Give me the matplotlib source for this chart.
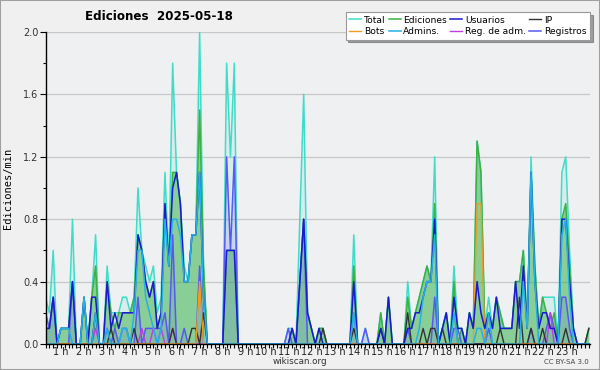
import numpy as np
import matplotlib
matplotlib.use("Agg")
import matplotlib.pyplot as plt
from matplotlib.patches import Rectangle
from matplotlib.ticker import MultipleLocator

# edits per minute, 10-minute bins from 0:00 (one row per hour)
total = [
    0.3, 0.2, 0.6, 0.0, 0.1, 0.1,
    0.1, 0.8, 0.0, 0.0, 0.3, 0.0,
    0.3, 0.7, 0.0, 0.0, 0.5, 0.2,
    0.2, 0.2, 0.3, 0.3, 0.2, 0.3,
    1.0, 0.6, 0.5, 0.4, 0.5, 0.2,
    0.3, 1.1, 0.5, 1.8, 1.1, 0.9,
    0.5, 0.4, 0.7, 0.7, 2.0, 0.5,
    0.0, 0.0, 0.0, 0.0, 0.0, 1.8,
    1.2, 1.8, 0.0, 0.0, 0.0, 0.0,
    0.0, 0.0, 0.0, 0.0, 0.0, 0.0,
    0.0, 0.0, 0.0, 0.1, 0.1, 0.0,
    0.8, 1.6, 0.2, 0.1, 0.0, 0.1,
    0.1, 0.0, 0.0, 0.0, 0.0, 0.0,
    0.0, 0.0, 0.7, 0.0, 0.0, 0.1,
    0.0, 0.0, 0.0, 0.2, 0.0, 0.3,
    0.0, 0.0, 0.0, 0.0, 0.4, 0.1,
    0.2, 0.3, 0.4, 0.5, 0.4, 1.2,
    0.0, 0.1, 0.2, 0.0, 0.5, 0.1,
    0.1, 0.0, 0.2, 0.1, 1.3, 1.1,
    0.1, 0.3, 0.1, 0.3, 0.2, 0.1,
    0.1, 0.1, 0.4, 0.4, 0.6, 0.1,
    1.2, 0.5, 0.1, 0.3, 0.3, 0.3,
    0.3, 0.0, 1.1, 1.2, 0.6, 0.1,
    0.0, 0.0, 0.0, 0.1]

ediciones = [
    0.1, 0.1, 0.3, 0.0, 0.1, 0.1,
    0.1, 0.4, 0.0, 0.0, 0.3, 0.0,
    0.3, 0.5, 0.0, 0.0, 0.4, 0.2,
    0.1, 0.2, 0.2, 0.2, 0.2, 0.3,
    0.7, 0.6, 0.4, 0.3, 0.4, 0.1,
    0.2, 0.9, 0.5, 1.1, 1.1, 0.9,
    0.4, 0.4, 0.7, 0.7, 1.5, 0.5,
    0.0, 0.0, 0.0, 0.0, 0.0, 0.6,
    0.6, 0.6, 0.0, 0.0, 0.0, 0.0,
    0.0, 0.0, 0.0, 0.0, 0.0, 0.0,
    0.0, 0.0, 0.0, 0.0, 0.1, 0.0,
    0.4, 0.8, 0.2, 0.1, 0.0, 0.1,
    0.1, 0.0, 0.0, 0.0, 0.0, 0.0,
    0.0, 0.0, 0.5, 0.0, 0.0, 0.0,
    0.0, 0.0, 0.0, 0.2, 0.0, 0.3,
    0.0, 0.0, 0.0, 0.0, 0.3, 0.1,
    0.2, 0.3, 0.4, 0.5, 0.4, 0.9,
    0.0, 0.1, 0.2, 0.0, 0.4, 0.0,
    0.1, 0.0, 0.2, 0.1, 1.3, 1.1,
    0.1, 0.2, 0.1, 0.3, 0.2, 0.1,
    0.1, 0.1, 0.4, 0.4, 0.6, 0.1,
    1.1, 0.5, 0.1, 0.3, 0.2, 0.1,
    0.2, 0.0, 0.8, 0.9, 0.5, 0.1,
    0.0, 0.0, 0.0, 0.1]

usuarios = [
    0.1, 0.1, 0.3, 0.0, 0.1, 0.1,
    0.1, 0.4, 0.0, 0.0, 0.3, 0.0,
    0.3, 0.3, 0.0, 0.0, 0.4, 0.1,
    0.2, 0.1, 0.2, 0.2, 0.2, 0.2,
    0.7, 0.6, 0.4, 0.3, 0.4, 0.1,
    0.2, 0.9, 0.5, 1.0, 1.1, 0.9,
    0.4, 0.4, 0.7, 0.7, 1.1, 0.3,
    0.0, 0.0, 0.0, 0.0, 0.0, 0.6,
    0.6, 0.6, 0.0, 0.0, 0.0, 0.0,
    0.0, 0.0, 0.0, 0.0, 0.0, 0.0,
    0.0, 0.0, 0.0, 0.0, 0.1, 0.0,
    0.4, 0.8, 0.2, 0.1, 0.0, 0.1,
    0.0, 0.0, 0.0, 0.0, 0.0, 0.0,
    0.0, 0.0, 0.4, 0.0, 0.0, 0.0,
    0.0, 0.0, 0.0, 0.1, 0.0, 0.3,
    0.0, 0.0, 0.0, 0.0, 0.1, 0.1,
    0.2, 0.2, 0.3, 0.4, 0.4, 0.8,
    0.0, 0.1, 0.2, 0.0, 0.3, 0.1,
    0.1, 0.0, 0.2, 0.1, 0.4, 0.2,
    0.1, 0.2, 0.1, 0.3, 0.1, 0.1,
    0.1, 0.1, 0.4, 0.1, 0.5, 0.1,
    1.1, 0.4, 0.1, 0.2, 0.2, 0.1,
    0.1, 0.0, 0.8, 0.8, 0.4, 0.1,
    0.0, 0.0, 0.0, 0.0]

ip = [
    0.0, 0.0, 0.0, 0.0, 0.0, 0.0,
    0.0, 0.0, 0.0, 0.0, 0.0, 0.0,
    0.0, 0.2, 0.0, 0.0, 0.0, 0.1,
    0.0, 0.0, 0.0, 0.0, 0.0, 0.1,
    0.0, 0.0, 0.0, 0.0, 0.0, 0.0,
    0.0, 0.0, 0.0, 0.1, 0.0, 0.0,
    0.0, 0.0, 0.1, 0.1, 0.0, 0.2,
    0.0, 0.0, 0.0, 0.0, 0.0, 0.0,
    0.0, 0.0, 0.0, 0.0, 0.0, 0.0,
    0.0, 0.0, 0.0, 0.0, 0.0, 0.0,
    0.0, 0.0, 0.0, 0.0, 0.0, 0.0,
    0.0, 0.0, 0.0, 0.0, 0.0, 0.0,
    0.1, 0.0, 0.0, 0.0, 0.0, 0.0,
    0.0, 0.0, 0.1, 0.0, 0.0, 0.0,
    0.0, 0.0, 0.0, 0.1, 0.0, 0.0,
    0.0, 0.0, 0.0, 0.0, 0.2, 0.0,
    0.0, 0.0, 0.1, 0.0, 0.1, 0.1,
    0.0, 0.1, 0.0, 0.0, 0.0, 0.0,
    0.0, 0.0, 0.0, 0.0, 0.0, 0.0,
    0.0, 0.0, 0.0, 0.0, 0.1, 0.0,
    0.0, 0.0, 0.0, 0.3, 0.0, 0.0,
    0.1, 0.0, 0.0, 0.1, 0.0, 0.0,
    0.0, 0.0, 0.0, 0.1, 0.0, 0.0,
    0.0, 0.0, 0.0, 0.1]

admins = [
    0.0, 0.0, 0.0, 0.0, 0.1, 0.1,
    0.1, 0.0, 0.0, 0.0, 0.3, 0.0,
    0.0, 0.2, 0.0, 0.0, 0.1, 0.0,
    0.0, 0.0, 0.1, 0.1, 0.0, 0.2,
    0.6, 0.6, 0.3, 0.2, 0.1, 0.0,
    0.1, 0.8, 0.5, 0.8, 0.8, 0.7,
    0.4, 0.4, 0.7, 0.7, 1.1, 0.3,
    0.0, 0.0, 0.0, 0.0, 0.0, 0.0,
    0.0, 0.0, 0.0, 0.0, 0.0, 0.0,
    0.0, 0.0, 0.0, 0.0, 0.0, 0.0,
    0.0, 0.0, 0.0, 0.0, 0.0, 0.0,
    0.0, 0.0, 0.0, 0.0, 0.0, 0.0,
    0.0, 0.0, 0.0, 0.0, 0.0, 0.0,
    0.0, 0.0, 0.2, 0.0, 0.0, 0.0,
    0.0, 0.0, 0.0, 0.0, 0.0, 0.0,
    0.0, 0.0, 0.0, 0.0, 0.0, 0.0,
    0.0, 0.1, 0.3, 0.4, 0.4, 0.7,
    0.0, 0.0, 0.0, 0.0, 0.2, 0.0,
    0.0, 0.0, 0.0, 0.0, 0.1, 0.1,
    0.0, 0.2, 0.0, 0.0, 0.0, 0.0,
    0.0, 0.0, 0.0, 0.0, 0.4, 0.1,
    1.1, 0.4, 0.0, 0.0, 0.0, 0.0,
    0.0, 0.0, 0.7, 0.8, 0.3, 0.0,
    0.0, 0.0, 0.0, 0.0]

registros = [
    0.2, 0.1, 0.3, 0.0, 0.0, 0.0,
    0.0, 0.4, 0.0, 0.0, 0.0, 0.0,
    0.0, 0.2, 0.0, 0.0, 0.1, 0.0,
    0.1, 0.0, 0.1, 0.1, 0.0, 0.0,
    0.3, 0.0, 0.1, 0.1, 0.1, 0.1,
    0.1, 0.2, 0.0, 0.7, 0.0, 0.0,
    0.1, 0.0, 0.0, 0.0, 0.5, 0.0,
    0.0, 0.0, 0.0, 0.0, 0.0, 1.2,
    0.6, 1.2, 0.0, 0.0, 0.0, 0.0,
    0.0, 0.0, 0.0, 0.0, 0.0, 0.0,
    0.0, 0.0, 0.0, 0.1, 0.0, 0.0,
    0.4, 0.8, 0.0, 0.0, 0.0, 0.0,
    0.0, 0.0, 0.0, 0.0, 0.0, 0.0,
    0.0, 0.0, 0.2, 0.0, 0.0, 0.1,
    0.0, 0.0, 0.0, 0.0, 0.0, 0.0,
    0.0, 0.0, 0.0, 0.0, 0.1, 0.0,
    0.0, 0.0, 0.0, 0.0, 0.0, 0.3,
    0.0, 0.0, 0.0, 0.0, 0.1, 0.1,
    0.0, 0.0, 0.0, 0.0, 0.0, 0.0,
    0.0, 0.1, 0.0, 0.0, 0.0, 0.0,
    0.0, 0.0, 0.0, 0.0, 0.0, 0.0,
    0.1, 0.0, 0.0, 0.0, 0.1, 0.2,
    0.1, 0.0, 0.3, 0.3, 0.1, 0.0,
    0.0, 0.0, 0.0, 0.0]

# sparse series: (bin, value)
bots_pts = [(40, 0.4), (112, 0.9), (113, 0.9)]
reg_adm_pts = [(13, 0.1), (25, 0.1), (28, 0.1), (30, 0.1), (33, 0.1), (131, 0.2)]

hour_labels = ["%d h" % h for h in range(1, 24)]

n = len(total)
x = np.arange(n)
bots = np.zeros(n)
for i, v in bots_pts:
    bots[i] = v
reg_adm = np.zeros(n)
for i, v in reg_adm_pts:
    reg_adm[i] = v

fig = plt.figure(figsize=(6, 3.7), dpi=100, facecolor="#f0f0f0")
fig.patches.append(Rectangle((0, 0), 1, 1, transform=fig.transFigure,
                             fill=False, edgecolor="#a0a0a0", linewidth=1.5))
ax = fig.add_axes([45.5 / 600, 26 / 370, 544.5 / 600, 312 / 370])
ax.set_facecolor("#eef0f2")

c_total = "#40dcc8"
c_ed = "#3cb043"
c_us = "#1a1ad0"
c_ip = "#333333"
c_bots = "#f59a20"
c_adm = "#25b0e6"
c_radm = "#c03ee0"
c_reg = "#5858f2"

ax.fill_between(x, total, color=c_total, alpha=0.13, lw=0)
ax.fill_between(x, ediciones, color=c_ed, alpha=0.5, lw=0)
ax.fill_between(x, registros, color=c_reg, alpha=0.15, lw=0)

ax.plot(x, total, color=c_total, lw=1.1, label="Total")
ax.plot(x, ediciones, color=c_ed, lw=1.1, label="Ediciones")
ax.plot(x, registros, color=c_reg, lw=1.1, label="Registros")
ax.plot(x, reg_adm, color=c_radm, lw=1.0, label="Reg. de adm.")
ax.plot(x, ip, color=c_ip, lw=1.0, label="IP")
ax.plot(x, bots, color=c_bots, lw=1.0, label="Bots")
ax.plot(x, usuarios, color=c_us, lw=1.1, label="Usuarios")
ax.plot(x, admins, color=c_adm, lw=1.1, label="Admins.")

ax.set_xlim(0, n - 0.7)
ax.set_ylim(0, 2.0)
ax.yaxis.set_major_locator(MultipleLocator(0.4))
ax.yaxis.set_minor_locator(MultipleLocator(0.2))
ax.yaxis.set_major_formatter(plt.FuncFormatter(lambda v, p: "%.1f" % v))
ax.grid(axis="y", which="major", color="#c8c8c8", lw=0.9)
ax.set_axisbelow(True)

ax.set_xticks([6 * h for h in range(1, 24)])
ax.set_xticklabels(hour_labels, ha="right")
ax.set_xticks(np.arange(0, n), minor=True)

for s in ["top", "right"]:
    ax.spines[s].set_visible(False)
for s in ["left", "bottom"]:
    ax.spines[s].set_color("black")
    ax.spines[s].set_linewidth(1.0)
ax.tick_params(axis="x", which="both", length=3, width=0.8, pad=-0.5,
               labelsize=7, colors="black", labelcolor="#222222")
ax.tick_params(axis="y", which="major", length=4, width=0.8, pad=1,
               labelsize=7, labelcolor="#333333")
ax.tick_params(axis="y", which="minor", length=2.5, width=0.8)

ax.set_ylabel("Ediciones/min", fontsize=7.5, family="DejaVu Sans Mono", labelpad=7)

fig.text(85 / 600, 1 - 16 / 370, "Ediciones  2025-05-18", fontsize=8.6,
         fontweight="bold", ha="left", va="center")
fig.text(300 / 600, 1 - 362 / 370, "wikiscan.org", fontsize=6.3,
         ha="center", va="center", color="#333333")
fig.text(589 / 600, 1 - 362 / 370, "CC BY-SA 3.0", fontsize=5,
         ha="right", va="center", color="#444444")

handles, labels = ax.get_legend_handles_labels()
order = ["Total", "Bots", "Ediciones", "Admins.", "Usuarios", "Reg. de adm.",
         "IP", "Registros"]
hmap = dict(zip(labels, handles))
leg = fig.legend([hmap[k] for k in order], order, ncol=4,
                 loc="upper right", bbox_to_anchor=(590 / 600, 1 - 12 / 370),
                 fontsize=6.6, frameon=True, fancybox=False, shadow=True,
                 framealpha=1, edgecolor="#999999", handlelength=1.3,
                 handletextpad=0.3, columnspacing=0.35, labelspacing=0.25,
                 borderpad=0.4, borderaxespad=0)
leg.get_frame().set_linewidth(0.8)

fig.savefig("out.png", dpi=100, facecolor=fig.get_facecolor())
